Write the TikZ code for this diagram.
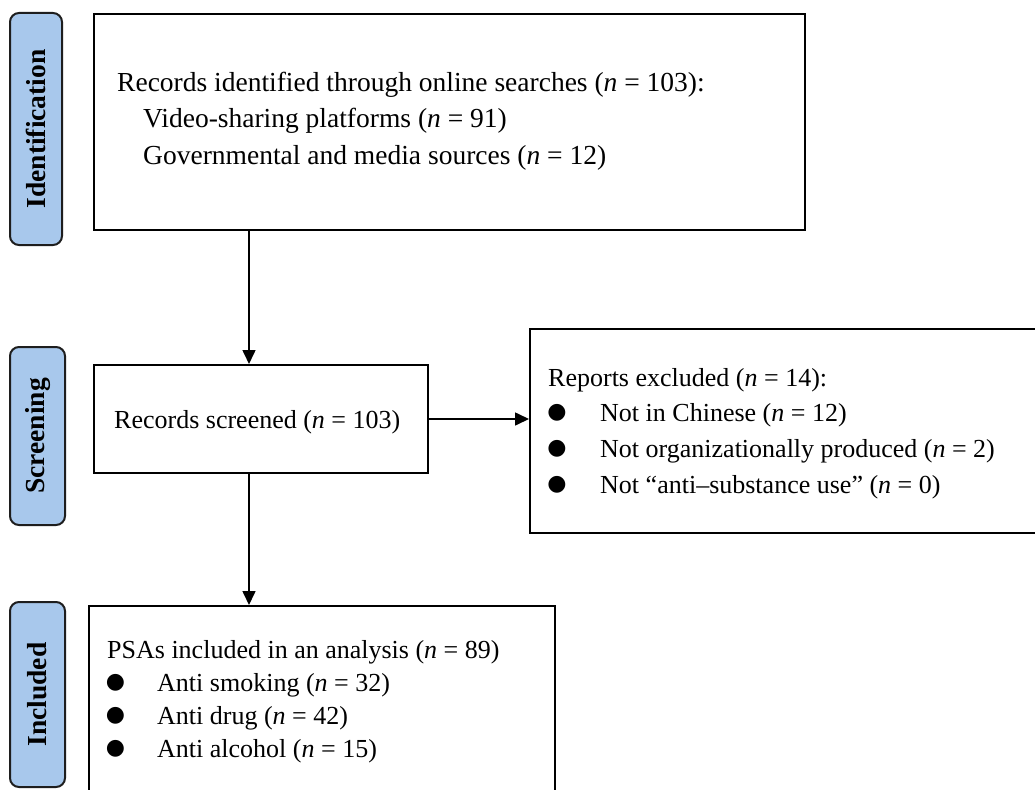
\documentclass[tikz,border=0pt]{standalone}
\usepackage{fontspec}
\setmainfont{Liberation Serif}
\newfontfamily\symfont{DejaVu Sans}
\usetikzlibrary{arrows.meta}
\definecolor{sideblue}{HTML}{A8C8EC}
\definecolor{sideedge}{HTML}{1E1E1E}
\tikzset{
  box/.style={draw=black, line width=2pt, anchor=north west, inner sep=0pt, fill=white},
  sidebox/.style={draw=sideedge, line width=2pt, fill=sideblue, rounded corners=9pt, inner sep=0pt,
    font=\fontsize{27.5}{31}\selectfont\bfseries},
  txt/.style={anchor=base west, inner sep=0pt, font=\fontsize{26}{30}\selectfont},
  toptxt/.style={txt, font=\fontsize{27.5}{32}\selectfont},
  bul/.style={anchor=center, inner sep=0pt, font=\fontsize{22}{26}\symfont},
  arr/.style={line width=1.6pt, -{Triangle[length=14pt,width=13pt]}}
}
\begin{document}
\begin{tikzpicture}[x=1pt,y=-1pt]
\clip (0,0) rectangle (1035,789);
\fill[white] (0,0) rectangle (1035,789);
% side labels
\node[sidebox, rotate=90, minimum width=232, minimum height=52] (sid) at (36,129) {Identification};
\node[sidebox, rotate=90, minimum width=178, minimum height=55] (sscr) at (37.5,436) {Screening};
\node[sidebox, rotate=90, minimum width=185, minimum height=55] (sinc) at (37.5,694.5) {Included};
% boxes
\node[box, minimum width=711, minimum height=216] (idbox) at (93,13) {};
\node[box, minimum width=334, minimum height=108] (scbox) at (93,364) {};
\node[box, minimum width=600, minimum height=204] (exbox) at (529,328) {};
\node[box, minimum width=466, minimum height=300] (inbox) at (88,605) {};
% identification text
\node[toptxt] (id1) at (117,92) {Records identified through online searches (\textit{n} = 103):};
\node[toptxt] (id2) at (143,128) {Video-sharing platforms (\textit{n} = 91)};
\node[toptxt] (id3) at (143,164) {Governmental and media sources (\textit{n} = 12)};
% screening text
\node[txt] (sc1) at (114,428) {Records screened (\textit{n} = 103)};
% excluded text
\node[txt] (ex0) at (548,386) {Reports excluded (\textit{n} = 14):};
\node[bul] (exb1) at (557,413) {●};
\node[txt] (ex1) at (600,421) {Not in Chinese (\textit{n} = 12)};
\node[bul] (exb2) at (557,449) {●};
\node[txt] (ex2) at (600,457) {Not organizationally produced (\textit{n} = 2)};
\node[bul] (exb3) at (557,485) {●};
\node[txt] (ex3) at (600,493) {Not “anti–substance use” (\textit{n} = 0)};
% included text
\node[txt] (in0) at (107,658) {PSAs included in an analysis (\textit{n} = 89)};
\node[bul] (inb1) at (115.5,683) {●};
\node[txt] (in1) at (157,691) {Anti smoking (\textit{n} = 32)};
\node[bul] (inb2) at (115.5,716) {●};
\node[txt] (in2) at (157,724) {Anti drug (\textit{n} = 42)};
\node[bul] (inb3) at (115.5,749) {●};
\node[txt] (in3) at (157,757) {Anti alcohol (\textit{n} = 15)};
% arrows
\coordinate (ax) at (249,0);
\draw[arr] (idbox.south -| ax) -- (scbox.north -| ax);
\draw[arr] (scbox.south -| ax) -- (inbox.north -| ax);
\draw[arr] (scbox.east) -- (exbox.west |- scbox.east);
\end{tikzpicture}
\end{document}
